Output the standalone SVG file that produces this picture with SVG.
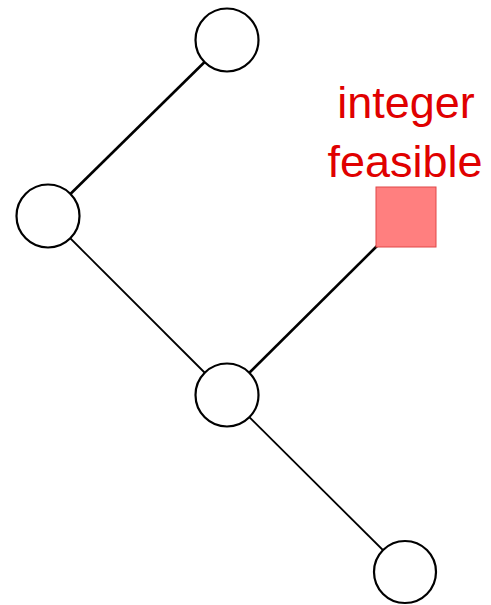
<svg xmlns="http://www.w3.org/2000/svg" width="491" height="605" viewBox="0 0 491 605">
  <style>
    .edge { stroke: #000; fill: none; }
    .thick { stroke-width: 2.6; }
    .thin { stroke-width: 1.8; }
    .node circle { fill: #fff; stroke: #000; stroke-width: 2.2; }
    .label { font-family: "Liberation Sans", Arial, sans-serif; font-size: 45px; fill: #e00000; text-anchor: middle; }
  </style>
  <rect width="491" height="605" fill="#fff"/>
  <g id="connectors">
    <line class="edge thick" x1="227" y1="40" x2="48" y2="216"/>
    <line class="edge thin" x1="48" y1="216" x2="227" y2="395"/>
    <line class="edge thick" x1="227" y1="395" x2="377" y2="246"/>
    <line class="edge thin" x1="227" y1="395" x2="405" y2="572"/>
  </g>
  <g id="root" class="node"><circle cx="227" cy="40" r="31.5"/></g>
  <g id="left" class="node"><circle cx="48" cy="216" r="31.5"/></g>
  <g id="middle" class="node"><circle cx="227" cy="395" r="31.5"/></g>
  <g id="bottom" class="node"><circle cx="405" cy="572" r="31"/></g>
  <g id="integer-feasible">
    <rect x="376" y="187" width="60" height="60" fill="#ff7f7f" stroke="#e04848" stroke-width="1"/>
    <text class="label" x="406" y="118">integer</text>
    <text class="label" x="405" y="177">feasible</text>
  </g>
</svg>
